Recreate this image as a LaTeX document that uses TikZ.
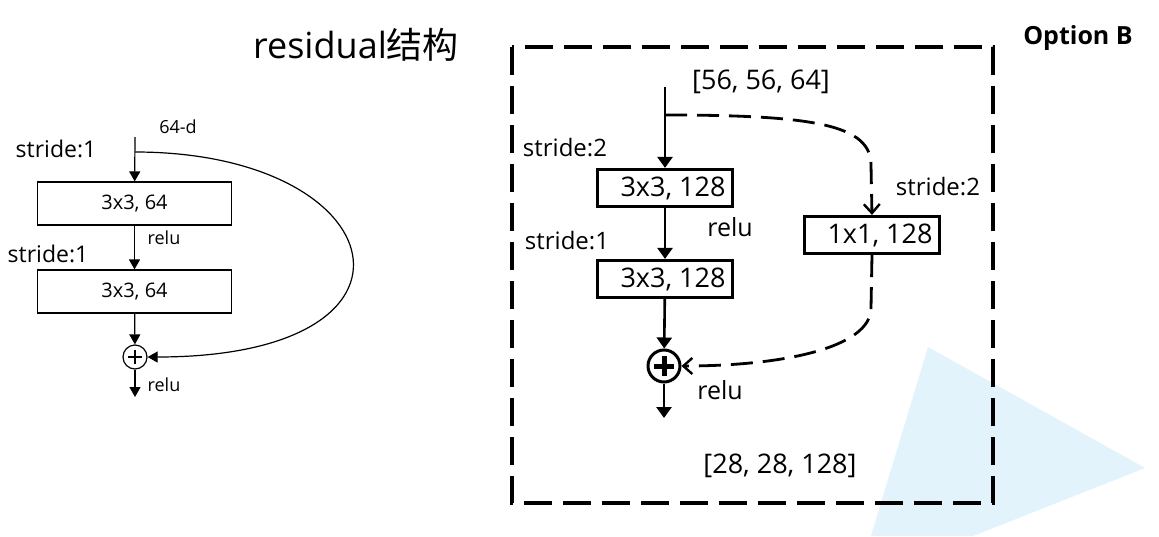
\documentclass[tikz,border=0pt]{standalone}
\usepackage{fontspec}
\setmainfont{Open Sans}
\newfontfamily\cjk{Noto Sans CJK SC}
\usetikzlibrary{arrows.meta,positioning}
\definecolor{playblue}{HTML}{E3F3FC}

\begin{document}
\begin{tikzpicture}[x=1pt,y=-1pt,
  lbox/.style={draw,line width=1.2pt,minimum width=194pt,minimum height=43pt,inner sep=0pt,font=\fontsize{20}{22}\selectfont},
  rbox/.style={draw,line width=3.2pt,minimum width=135pt,minimum height=37pt,inner sep=0pt,font=\fontsize{27}{30}\selectfont,
    execute at begin node={\hspace*{16pt}}},
  ltxt/.style={inner sep=0pt,font=\fontsize{#1}{#1}\selectfont},
  larr/.style={line width=1.2pt,-{Triangle[length=10pt,width=11pt]}},
  rarr/.style={line width=2.6pt,-{Triangle[length=11pt,width=15pt]}},
  dsh/.style={line width=2.8pt,dash pattern=on 22pt off 10pt,-{Straight Barb[length=9pt,width=16pt,line width=2.4pt]}}]
\useasboundingbox (0,0) rectangle (1159,536);
\fill[white] (0,0) rectangle (1159,536);
\fill[playblue] (928,347) -- (1145,468) -- (973,536) -- (871,536) -- cycle;

% left: plain residual block
\node[ltxt=36] (title) at (356,45) {residual{\cjk 结构}};
\node[lbox] (lb1) at (134.5,203.5) {3x3, 64};
\node[lbox] (lb2) at (134.5,291.5) {3x3, 64};
\node[circle,draw,line width=1.2pt,minimum size=24pt,inner sep=0pt] (lsum) at (135,357) {};
\draw[line width=1.2pt] (lsum.center) ++(-7,0) -- ++(14,0) (lsum.center) ++(0,-7) -- ++(0,14);
\coordinate (lin) at (135,137);
\coordinate (lsplit) at (135,152);
\coordinate (lout) at (135,397);
\node[ltxt=18] (l64d) at (178,127) {64-d};
\node[ltxt=23] (ls1) at (56,149) {stride:1};
\node[ltxt=23] (ls2) at (48,254) {stride:1};
\node[ltxt=18] (lrelu1) at (164,238) {relu};
\node[ltxt=18] (lrelu2) at (164,385) {relu};
\draw[larr] (lin) -- (lb1);
\draw[larr] (lb1) -- (lb2);
\draw[larr] (lb2) -- (lsum);
\draw[larr] (lsum) -- (lout);
\draw[larr] (lsplit) .. controls +(260,0) and +(300,0) .. (lsum.east);

% right: option B with projection shortcut
\draw[line width=3.5pt,dash pattern=on 28pt off 11pt] (512,47) rectangle (993,503);
\node[ltxt=25,font=\bfseries\fontsize{25}{25}\selectfont] (optb) at (1078,38) {Option B};
\node[rbox] (rb1) at (665,188) {3x3, 128};
\node[rbox] (rb2) at (665,279) {3x3, 128};
\node[rbox] (rb3) at (872,235) {1x1, 128};
\node[circle,draw,line width=3pt,minimum size=32pt,inner sep=0pt] (rsum) at (664,366) {};
\draw[line width=5pt] (rsum.center) ++(-10,0) -- ++(20,0) (rsum.center) ++(0,-10) -- ++(0,20);
\coordinate (rin) at (665,87);
\coordinate (rsplit) at (665,115);
\coordinate (rbend) at (871,165);
\coordinate (rturn) at (871,308);
\coordinate (rout) at (664,418);
\node[ltxt=27] (rinsz) at (761,82) {[56, 56, 64]};
\node[ltxt=27] (routsz) at (780,466) {[28, 28, 128]};
\node[ltxt=24] (rs2a) at (565,148) {stride:2};
\node[ltxt=24] (rs1) at (567,241) {stride:1};
\node[ltxt=24] (rs2b) at (938,187) {stride:2};
\node[ltxt=25] (rrelu1) at (730,227) {relu};
\node[ltxt=25] (rrelu2) at (720,390) {relu};
\draw[rarr] (rin) -- (rb1);
\draw[rarr] (rb1) -- (rb2);
\draw[rarr] (rb2) -- (rsum);
\draw[rarr] (rsum) -- (rout);
\draw[dsh] (rsplit) .. controls +(150,0) and +(0,-40) .. (rbend) -- (rb3.north);
\draw[dsh] (rb3.south) -- (rturn) .. controls +(0,40) and +(100,0) .. (rsum.east);
\end{tikzpicture}
\end{document}
